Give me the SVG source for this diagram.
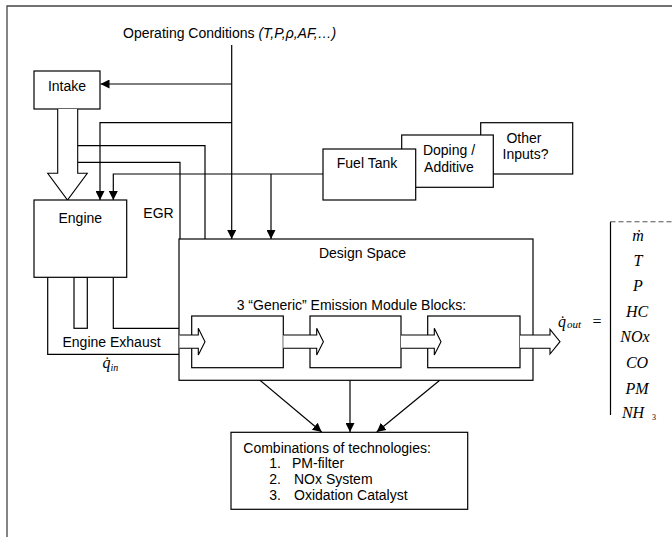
<svg xmlns="http://www.w3.org/2000/svg" width="672" height="537" viewBox="0 0 672 537">
<defs>
<marker id="ah" markerUnits="userSpaceOnUse" markerWidth="10" markerHeight="9" refX="9" refY="4.5" orient="auto">
<path d="M0,0 L9,4.5 L0,9 z" fill="#000"/>
</marker>
<style>
.box{fill:#fff;stroke:#000;stroke-width:1.2}
.ln{fill:none;stroke:#000;stroke-width:1.2}
.arr{fill:none;stroke:#000;stroke-width:1.2;marker-end:url(#ah)}
.hol{fill:#fff;stroke:#000;stroke-width:1.1}
.t{font-family:"Liberation Sans",Arial,sans-serif;font-size:14px;fill:#000}
.m{font-family:"Liberation Serif","Times New Roman",serif;font-style:italic;font-size:16px;fill:#000}
.sub{font-family:"Liberation Serif","Times New Roman",serif;font-style:italic;font-size:10px;fill:#000}
</style>
</defs>
<rect width="672" height="537" fill="#fff"/>
<path d="M7,537 V6 H672" fill="none" stroke="#444" stroke-width="1.3"/>

<text class="t" x="123" y="38">Operating Conditions <tspan font-style="italic">(T,P,ρ,AF,…)</tspan></text>

<g id="connectors">
<path class="arr" d="M231.7,45 V239"/>
<path class="arr" d="M231.7,84 H100.5"/>
<path class="arr" d="M231.7,122.7 H100 V200"/>
<path class="ln" d="M77.7,145.7 H205 V239"/>
<path class="ln" d="M77.7,162.3 H180 V239"/>
<path class="arr" d="M323,174 H113.3 V200"/>
<path class="arr" d="M271,174 V239"/>
<path class="ln" d="M113.3,277.3 V328.3 H179"/>
<path class="ln" d="M47.7,277.3 V354.3 H179"/>
<rect class="box" x="74" y="277.3" width="13.3" height="51"/>
<path class="arr" d="M245,367.7 L321.7,432"/>
<path class="arr" d="M350,368 V432"/>
<path class="arr" d="M455,367.7 L376.7,432"/>
<text class="t" x="143.3" y="218">EGR</text>
<text class="t" x="62.5" y="347">Engine Exhaust</text>
<text class="m" x="102.5" y="368" font-size="15">q̇</text>
<text class="sub" x="110.5" y="370.5">in</text>
</g>

<g id="intake">
<rect class="box" x="34" y="71" width="66" height="38"/>
<text class="t" x="67" y="91" text-anchor="middle">Intake</text>
<path class="hol" d="M57.7,109 V173.3 H47.7 L67.5,200 L87.3,173.3 H77.7 V109"/>
</g>

<g id="engine">
<rect class="box" x="34" y="200" width="92.7" height="77.3"/>
<text class="t" x="80.3" y="223" text-anchor="middle" font-size="17.5">Engine</text>
</g>

<g id="other-inputs">
<rect class="box" x="480.7" y="122.7" width="92" height="51.3"/>
<text class="t" x="524" y="142.5" text-anchor="middle">Other</text>
<text class="t" x="525.5" y="159" text-anchor="middle">Inputs?</text>
</g>
<g id="doping">
<rect class="box" x="401.7" y="135" width="91.6" height="52.3"/>
<text class="t" x="449" y="154.5" text-anchor="middle">Doping /</text>
<text class="t" x="449" y="171.5" text-anchor="middle">Additive</text>
</g>
<g id="fuel-tank">
<rect class="box" x="323" y="149" width="92.7" height="51"/>
<text class="t" x="367" y="167.5" text-anchor="middle">Fuel Tank</text>
</g>

<g id="design-space">
<rect class="box" x="179" y="239" width="354" height="141.3"/>
<text class="t" x="362.5" y="257.5" text-anchor="middle">Design Space</text>
<text class="t" x="236.7" y="309.5">3 “Generic” Emission Module Blocks:</text>
</g>

<g id="block1"><rect class="box" x="191.7" y="316" width="91.6" height="51.7"/></g>
<g id="block2"><rect class="box" x="310" y="316" width="91" height="51.7"/></g>
<g id="block3"><rect class="box" x="427.7" y="316" width="92.3" height="51.7"/></g>

<g id="flow-arrows">
<path class="hol" d="M179.5,335 H198.3 V328.3 L205,341.7 L198.3,355 V348.3 H179.5"/>
<path class="hol" d="M283.3,335 H316.7 V328.3 L323.4,341.7 L316.7,355 V348.3 H283.3"/>
<path class="hol" d="M401,335 H434.3 V328.3 L441,341.7 L434.3,355 V348.3 H401"/>
<path class="hol" d="M520,335 H550 V329.3 L560,341.7 L550,354 V348.3 H520"/>
</g>

<g id="combinations">
<rect class="box" x="231" y="432.3" width="236.7" height="77"/>
<text class="t" x="243.3" y="452.7">Combinations of technologies:</text>
<text class="t" x="269.3" y="468.3">1.</text><text class="t" x="292" y="468.3">PM-filter</text>
<text class="t" x="269.3" y="484.2">2.</text><text class="t" x="294" y="484.2">NOx System</text>
<text class="t" x="269.3" y="500">3.</text><text class="t" x="294" y="500">Oxidation Catalyst</text>
</g>

<g id="output-vector">
<text class="m" x="558" y="327" font-size="15">q̇</text>
<text class="sub" x="567" y="328" style="font-size:11px">out</text>
<text class="m" x="597" y="327" text-anchor="middle" style="font-style:normal">=</text>
<path class="ln" d="M610.5,221.7 V415"/>
<path d="M610.5,221.7 H672" fill="none" stroke="#555" stroke-width="1.1" stroke-dasharray="5,3"/>
<g text-anchor="middle">
<text class="m" x="638" y="241">ṁ</text>
<text class="m" x="638" y="266">T</text>
<text class="m" x="638" y="291">P</text>
<text class="m" x="637" y="317">HC</text>
<text class="m" x="635" y="342">NOx</text>
<text class="m" x="637" y="368">CO</text>
<text class="m" x="637" y="394">PM</text>
<text class="m" x="633" y="418">NH</text>
</g>
<text class="sub" x="652" y="420" style="font-style:normal;font-size:8px">3</text>
</g>
</svg>
